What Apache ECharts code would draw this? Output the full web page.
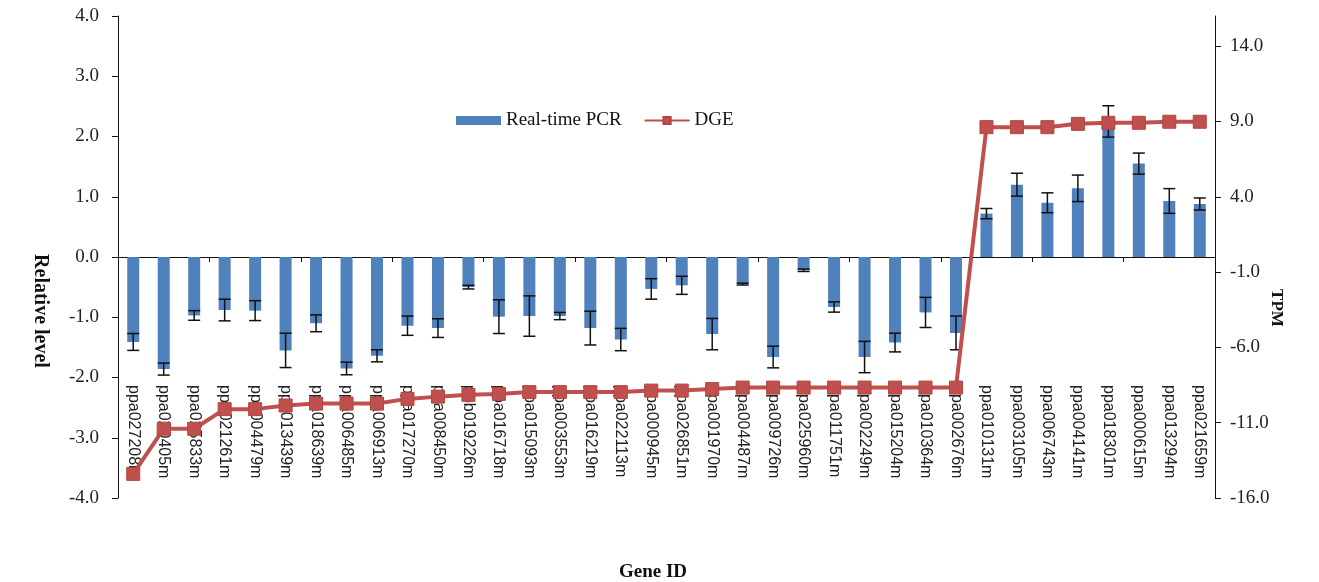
<!DOCTYPE html>
<html>
<head>
<meta charset="utf-8">
<script src="https://cdn.jsdelivr.net/npm/echarts@6/dist/echarts.min.js"></script>
<style>html,body{margin:0;padding:0;background:#fff;}#c{width:1319px;height:582px;}</style>
</head>
<body>
<div id="c"></div>
<script>
const categories = ['ppa027208m','ppa020405m','ppa025833m','ppa021261m','ppa004479m','ppa013439m','ppa018639m','ppa006485m','ppa006913m','ppa017270m','ppa008450m','ppb019226m','ppa016718m','ppa015093m','ppa003553m','ppa016219m','ppa022113m','ppa000945m','ppa026851m','ppa001970m','ppa004487m','ppa009726m','ppa025960m','ppa011751m','ppa002249m','ppa015204m','ppa010364m','ppa002676m','ppa010131m','ppa003105m','ppa006743m','ppa004141m','ppa018301m','ppa000615m','ppa013294m','ppa021659m'];
const pcrValues = [-1.41,-1.86,-0.97,-0.88,-0.89,-1.55,-1.10,-1.85,-1.64,-1.14,-1.18,-0.50,-0.99,-0.98,-0.98,-1.18,-1.37,-0.53,-0.47,-1.28,-0.45,-1.66,-0.22,-0.83,-1.66,-1.42,-0.92,-1.26,0.72,1.20,0.90,1.14,2.25,1.55,0.93,0.88];
const pcrErrors = [0.14,0.10,0.08,0.18,0.165,0.285,0.14,0.105,0.10,0.16,0.155,0.03,0.28,0.335,0.06,0.28,0.185,0.17,0.15,0.26,0.015,0.18,0.02,0.085,0.26,0.155,0.25,0.28,0.085,0.19,0.165,0.22,0.26,0.175,0.205,0.10];
const dgeValues = [-14.4,-11.4,-11.4,-10.1,-10.1,-9.86,-9.73,-9.73,-9.73,-9.42,-9.27,-9.15,-9.09,-8.97,-8.97,-8.97,-8.97,-8.87,-8.87,-8.77,-8.67,-8.67,-8.67,-8.67,-8.67,-8.67,-8.67,-8.67,8.62,8.62,8.62,8.84,8.91,8.91,8.98,8.98];
const leftTicks = {min:-4, max:4, interval:1};
const rightTicks = {min:-16, max:16, interval:5};

const serif = "'Liberation Serif', 'Times New Roman', serif";
const chart = echarts.init(document.getElementById('c'));
const errData = pcrValues.map((v,i)=>[i, v - pcrErrors[i], v + pcrErrors[i]]);
chart.setOption({
  animation:false,
  backgroundColor:'#fff',
  grid:{left:118, right:104, top:16, bottom:84},
  legend:{
    data:[{name:'Real-time PCR', icon:'rect'},{name:'DGE'}],
    left:451, top:106, itemWidth:45, itemHeight:9, itemGap:22,
    textStyle:{fontFamily:serif, fontSize:19, color:'#111'}
  },
  xAxis:[{
    type:'category', data:categories, boundaryGap:true,
    axisLine:{onZero:true, lineStyle:{color:'#111', width:1}},
    axisTick:{show:true, length:5, lineStyle:{color:'#111'}},
    axisLabel:{show:false}
  },{
    type:'category', data:categories, position:'bottom', offset:-115,
    axisLine:{show:false}, axisTick:{show:false},
    axisLabel:{show:true, rotate:-90, margin:2, interval:0, fontFamily:"'Liberation Sans', Arial, sans-serif", fontSize:16, color:'#222'}
  }],
  yAxis:[{
    type:'value', min:leftTicks.min, max:leftTicks.max, interval:leftTicks.interval,
    splitLine:{show:false},
    axisLine:{show:true, lineStyle:{color:'#111'}},
    axisTick:{show:true, length:6, lineStyle:{color:'#111'}},
    axisLabel:{formatter:v=>v.toFixed(1), fontFamily:serif, fontSize:19, color:'#222', margin:19}
  },{
    type:'value', min:rightTicks.min, max:rightTicks.max, interval:rightTicks.interval,
    splitLine:{show:false},
    axisLine:{show:true, lineStyle:{color:'#111'}},
    axisTick:{show:true, length:6, lineStyle:{color:'#111'}},
    axisLabel:{showMaxLabel:false, formatter:v=>v.toFixed(1), fontFamily:serif, fontSize:19, color:'#222', margin:15}
  }],
  series:[{
    name:'Real-time PCR', type:'bar', data:pcrValues, barWidth:12,
    itemStyle:{color:'#4F81BD'}, z:2
  },{
    name:'err', type:'custom', data:errData, z:3,
    renderItem:function(params, api){
      const x = api.value(0);
      const lo = api.coord([x, api.value(1)]);
      const hi = api.coord([x, api.value(2)]);
      const hw = 6;
      const st = {stroke:'#111', lineWidth:1.5};
      return {type:'group', children:[
        {type:'line', shape:{x1:lo[0], y1:lo[1], x2:hi[0], y2:hi[1]}, style:st},
        {type:'line', shape:{x1:lo[0]-hw, y1:lo[1], x2:lo[0]+hw, y2:lo[1]}, style:st},
        {type:'line', shape:{x1:hi[0]-hw, y1:hi[1], x2:hi[0]+hw, y2:hi[1]}, style:st}
      ]};
    }
  },{
    name:'DGE', type:'line', yAxisIndex:1, data:dgeValues, z:5,
    symbol:'rect', symbolSize:13, showAllSymbol:true,
    lineStyle:{color:'#C0504D', width:4},
    itemStyle:{color:'#C0504D', borderColor:'#B3443F', borderWidth:1}
  }],
  graphic:[
    {type:'text', x:40, y:311, rotation:-Math.PI/2, style:{text:'Relative level', font:"bold 20px "+serif, fill:'#111', textAlign:'center', textVerticalAlign:'middle'}},
    {type:'text', x:1276, y:308, rotation:-Math.PI/2, style:{text:'TPM', font:"bold 17px "+serif, fill:'#111', textAlign:'center', textVerticalAlign:'middle'}},
    {type:'text', x:653, y:572, style:{text:'Gene ID', font:"bold 19px "+serif, fill:'#111', textAlign:'center', textVerticalAlign:'middle'}}
  ]
});
</script>
</body>
</html>
